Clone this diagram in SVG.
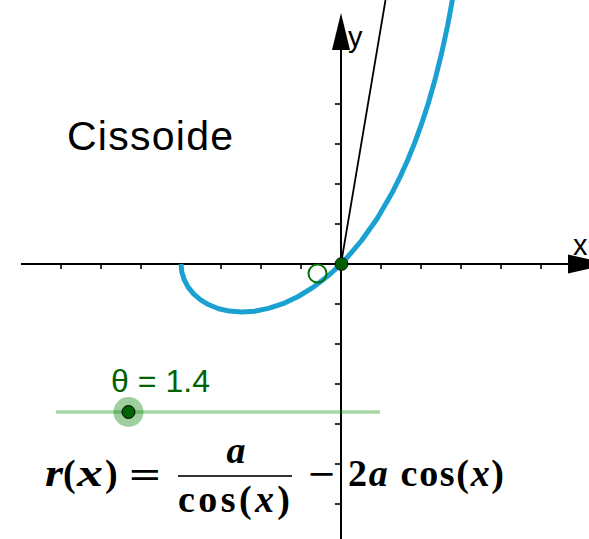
<svg xmlns="http://www.w3.org/2000/svg" width="589" height="539" viewBox="0 0 589 539">
<style>
.ax{stroke:#000;stroke-width:2;fill:none}
.tk{stroke:#000;stroke-width:1.6}
.sans{font-family:"Liberation Sans",Arial,sans-serif}
.m{font-family:"Liberation Serif","Times New Roman",serif;font-weight:bold;font-size:38px;fill:#000}
.i{font-style:italic}
</style>
<rect width="589" height="539" fill="#fff"/>
<g id="axes">
<line class="ax" x1="21" y1="264" x2="572" y2="264"/>
<polygon points="568,254.5 568,273.5 610,264" fill="#000"/>
<line class="ax" x1="341" y1="539" x2="341" y2="46"/>
<polygon points="332,50 350,50 341,13" fill="#000"/>
<g class="tk">
<line x1="61" y1="264" x2="61" y2="269"/><line x1="101" y1="264" x2="101" y2="269"/><line x1="141" y1="264" x2="141" y2="269"/><line x1="181" y1="264" x2="181" y2="269"/><line x1="221" y1="264" x2="221" y2="269"/><line x1="261" y1="264" x2="261" y2="269"/><line x1="301" y1="264" x2="301" y2="269"/>
<line x1="381" y1="264" x2="381" y2="269"/><line x1="421" y1="264" x2="421" y2="269"/><line x1="461" y1="264" x2="461" y2="269"/><line x1="501" y1="264" x2="501" y2="269"/><line x1="541" y1="264" x2="541" y2="269"/>
<line x1="335" y1="104" x2="341" y2="104"/><line x1="335" y1="144" x2="341" y2="144"/><line x1="335" y1="184" x2="341" y2="184"/><line x1="335" y1="224" x2="341" y2="224"/>
<line x1="335" y1="304" x2="341" y2="304"/><line x1="335" y1="344" x2="341" y2="344"/><line x1="335" y1="384" x2="341" y2="384"/><line x1="335" y1="424" x2="341" y2="424"/><line x1="335" y1="464" x2="341" y2="464"/><line x1="335" y1="504" x2="341" y2="504"/>
</g>
<text class="sans" x="348" y="47" font-size="29">y</text>
<text class="sans" x="573" y="255" font-size="29">x</text>
</g>
<g id="ray">
<line x1="341" y1="264" x2="385.5" y2="0" stroke="#000" stroke-width="1.8"/>
</g>
<g id="curve">
<polyline fill="none" stroke="#1ba1d1" stroke-width="5" stroke-linejoin="round" points="181,264 181.8,272 184.2,279.7 188.1,287.1 193.6,293.9 200.6,299.9 208.9,304.8 218.6,308.7 229.5,311.1 241.5,312 254.6,311.2 268.4,308.4 283,303.7 298.2,296.5 313.8,286.9 329.7,274.5 341,264 345.7,259.2 361.6,240.5 377.4,218.2 392.7,191.7 400.2,176.6 407.6,160.3 414.8,142.6 421.8,123.2 428.6,102.3 435.2,79 441.5,53.7 447.6,25.8 454.5,-11.6"/>
</g>
<g id="points">
<circle cx="317.5" cy="273.5" r="9" fill="none" stroke="#007000" stroke-width="2"/>
<circle cx="341.5" cy="264" r="6.5" fill="#005f00" stroke="#000" stroke-width="0.8"/>
</g>
<g id="title">
<text class="sans" x="67" y="150" font-size="41" textLength="166" lengthAdjust="spacing" fill="#000">Cissoide</text>
</g>
<g id="slider">
<line x1="56" y1="412" x2="380" y2="412" stroke="#008c00" stroke-opacity="0.35" stroke-width="3.5"/>
<circle cx="128.5" cy="412" r="15" fill="#008000" fill-opacity="0.38"/>
<circle cx="128.5" cy="412" r="6.5" fill="#006400" stroke="#000" stroke-width="1"/>
<text class="sans" x="111" y="392" font-size="32" textLength="99" lengthAdjust="spacing" fill="#006400">θ = 1.4</text>
</g>
<g id="formula">
<text class="m i" x="45" y="486" textLength="18" lengthAdjust="spacingAndGlyphs">r</text>
<text class="m" x="63" y="486">(</text>
<text class="m i" x="77" y="486" textLength="26" lengthAdjust="spacingAndGlyphs">x</text>
<text class="m" x="105" y="486">)</text>
<text class="m" x="129" y="488" textLength="32" lengthAdjust="spacingAndGlyphs">=</text>
<text class="m i" x="236" y="463" text-anchor="middle">a</text>
<line x1="178" y1="476" x2="292" y2="476" stroke="#333" stroke-width="1.8"/>
<text class="m" x="178" y="512" textLength="112" lengthAdjust="spacing">cos(<tspan class="i">x</tspan>)</text>
<text class="m" x="308" y="487" textLength="27" lengthAdjust="spacingAndGlyphs">−</text>
<text class="m" x="348" y="486" textLength="156" lengthAdjust="spacing">2<tspan class="i">a</tspan> cos(<tspan class="i">x</tspan>)</text>
</g>
</svg>
